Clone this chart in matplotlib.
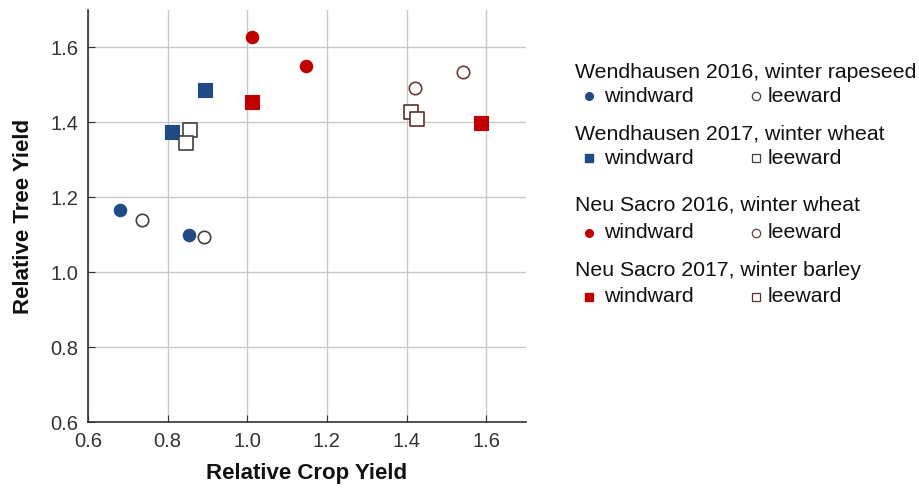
import matplotlib
matplotlib.use("Agg")
import matplotlib.pyplot as plt

plt.rcParams["font.family"] = ["Liberation Sans", "DejaVu Sans"]

# relative crop yield (x) and relative tree yield (y) per site/year and side
groups = [
    "Wendhausen 2016, winter rapeseed",
    "Wendhausen 2017, winter wheat",
    "Neu Sacro 2016, winter wheat",
    "Neu Sacro 2017, winter barley",
]
windward_crop = [[0.681, 0.853], [0.895, 0.811], [1.013, 1.147], [1.013, 1.587]]
windward_tree = [[1.165, 1.100], [1.487, 1.373], [1.627, 1.550], [1.454, 1.397]]
leeward_crop = [[0.735, 0.891], [0.856, 0.846], [1.422, 1.542], [1.411, 1.427]]
leeward_tree = [[1.139, 1.094], [1.380, 1.345], [1.491, 1.534], [1.428, 1.410]]

BLUE = "#1f4a85"
RED = "#c00000"
fills = [BLUE, BLUE, RED, RED]
edges_open = ["#404040", "#404040", "#6a3a3a", "#5a3030"]
markers = ["o", "s", "o", "s"]
sizes = [80, 95, 80, 95]

fig = plt.figure(figsize=(9.2, 4.88), dpi=100)
ax = fig.add_axes([88 / 920, 66 / 488, 438 / 920, 412 / 488])

for i in range(len(groups)):
    ax.scatter(windward_crop[i], windward_tree[i], marker=markers[i], s=sizes[i],
               c=fills[i], edgecolors=fills[i], linewidths=0.8, zorder=3)
    ax.scatter(leeward_crop[i], leeward_tree[i], marker=markers[i], s=sizes[i],
               facecolors="white", edgecolors=edges_open[i], linewidths=1.2, zorder=3)

ax.set_xlim(0.6, 1.7)
ax.set_ylim(0.6, 1.7)
ax.set_xticks([0.6, 0.8, 1.0, 1.2, 1.4, 1.6])
ax.set_yticks([0.6, 0.8, 1.0, 1.2, 1.4, 1.6])
ax.grid(True, color="#c8c8c8", linewidth=1.0)
ax.set_axisbelow(True)
for side in ("top", "right"):
    ax.spines[side].set_visible(False)
for side in ("left", "bottom"):
    ax.spines[side].set_color("#333333")
    ax.spines[side].set_linewidth(1.2)
ax.tick_params(direction="in", length=5, color="#333333", labelsize=14.5,
               labelcolor="#333333", pad=7)
ax.set_xlabel("Relative Crop Yield", fontsize=16, fontweight="bold", labelpad=9,
              color="#111111")
ax.set_ylabel("Relative Tree Yield", fontsize=16, fontweight="bold", labelpad=12,
              color="#111111")

# legend panel in pixel coordinates
lg = fig.add_axes([0, 0, 1, 1], facecolor="none")
lg.set_xlim(0, 920)
lg.set_ylim(488, 0)
lg.axis("off")
header_y = [72, 134, 205, 270]
row_y = [96, 158, 233, 297]
for i, name in enumerate(groups):
    lg.text(575, header_y[i], name, fontsize=15.3, va="center", ha="left",
            color="#111111")
    lg.plot(589, row_y[i], marker=markers[i], ms=5.5, color=fills[i],
            markeredgecolor=fills[i], linestyle="none")
    lg.text(604, row_y[i], "windward", fontsize=15.3, va="center", ha="left",
            color="#111111")
    lg.plot(756, row_y[i], marker=markers[i], ms=6, markerfacecolor="white",
            markeredgecolor=edges_open[i], markeredgewidth=0.9, linestyle="none")
    lg.text(768, row_y[i], "leeward", fontsize=15.3, va="center", ha="left",
            color="#111111")

fig.savefig("out.png", dpi=100)
